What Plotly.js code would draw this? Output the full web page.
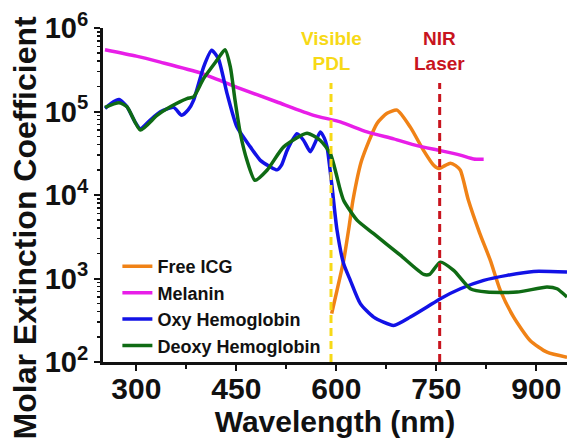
<!DOCTYPE html>
<html>
<head>
<meta charset="utf-8">
<script src="https://cdn.plot.ly/plotly-3.0.1.min.js"></script>
<style>html,body{margin:0;padding:0;background:#fff;}#chart{width:567px;height:445px;}</style>
</head>
<body>
<div id="chart"></div>
<script>
// Free ICG
const icgWavelength = [593, 601, 611, 619, 625, 638, 661, 676, 691, 711, 731, 746, 754, 763, 771, 779, 786, 798, 815, 831, 846, 866, 891, 916, 946];
const icgValue      = [380, 720, 1650, 4100, 8700, 26000, 72000, 95000, 104000, 65000, 34000, 22700, 20700, 22500, 24000, 22500, 19800, 8700, 3500, 1650, 720, 345, 180, 131, 114];

// Melanin
const melaninWavelength = [253, 300, 336, 396, 451, 511, 566, 606, 646, 686, 721, 756, 786, 806, 821];
const melaninValue      = [550000, 460000, 390000, 290000, 195000, 130000, 90000, 75000, 57000, 47000, 39000, 34000, 30000, 27000, 26800];

// Oxy Hemoglobin
const oxyWavelength = [253, 262, 274, 286, 298, 306, 320, 336, 356, 368, 378, 386, 401, 413, 423, 436, 451, 471, 486, 500, 511, 518, 526, 541, 551, 561, 568, 576, 582, 586, 593, 601, 611, 621, 636, 656, 686, 711, 736, 756, 786, 821, 856, 896, 946];
const oxyValue      = [109000, 125000, 139000, 114000, 75000, 62000, 78000, 99000, 112000, 90000, 105000, 137000, 343000, 540000, 430000, 165000, 65000, 37700, 26000, 22000, 20000, 23000, 34000, 54000, 45000, 33000, 42000, 57000, 48000, 38000, 13700, 3800, 1500, 950, 500, 345, 274, 345, 455, 573, 754, 950, 1090, 1215, 1195];

// Deoxy Hemoglobin
const deoxyWavelength = [253, 274, 286, 306, 331, 351, 376, 386, 401, 421, 433, 441, 448, 456, 466, 478, 496, 521, 556, 576, 591, 606, 611, 631, 656, 696, 731, 740, 756, 776, 801, 826, 871, 916, 931, 946];
const deoxyValue      = [112000, 127000, 114000, 60000, 90000, 114000, 143000, 150000, 249000, 412000, 550000, 343000, 137000, 54500, 26000, 15000, 19800, 37700, 55000, 45000, 31300, 11400, 8600, 5000, 3440, 1900, 1120, 1120, 1570, 1250, 754, 687, 687, 790, 754, 600];

// Marker wavelengths
const pdlWavelength = 592;
const nirWavelength = 755;
const markerSpan = [100, 220000];

const yTickVals = [1e2, 1e3, 1e4, 1e5, 1e6];
const yTickText = ['10<sup>2</sup>', '10<sup>3</sup>', '10<sup>4</sup>', '10<sup>5</sup>', '10<sup>6</sup>'];
const xTickVals = [300, 450, 600, 750, 900];

const FONT = 'Liberation Sans, Arial, sans-serif';
const lw = 3.5;

const traces = [
  {x: icgWavelength, y: icgValue, name: 'Free ICG', mode: 'lines', line: {color: '#f08216', width: lw, shape: 'spline', smoothing: 0.6}},
  {x: melaninWavelength, y: melaninValue, name: 'Melanin', mode: 'lines', line: {color: '#e81ee8', width: lw, shape: 'spline', smoothing: 0.6}},
  {x: oxyWavelength, y: oxyValue, name: 'Oxy Hemoglobin', mode: 'lines', line: {color: '#1212e6', width: lw, shape: 'spline', smoothing: 0.6}},
  {x: deoxyWavelength, y: deoxyValue, name: 'Deoxy Hemoglobin', mode: 'lines', line: {color: '#0f6b14', width: lw, shape: 'spline', smoothing: 0.6}},
  {x: [pdlWavelength, pdlWavelength], y: markerSpan, mode: 'lines', showlegend: false, hoverinfo: 'skip', line: {color: '#f7d916', width: 3, dash: '8px,5px'}},
  {x: [nirWavelength, nirWavelength], y: markerSpan, mode: 'lines', showlegend: false, hoverinfo: 'skip', line: {color: '#c8141e', width: 3, dash: '8px,5px'}}
];

const layout = {
  width: 567, height: 445,
  margin: {l: 103, r: 0, t: 28, b: 83},
  paper_bgcolor: '#ffffff', plot_bgcolor: '#ffffff',
  font: {family: FONT, color: '#111111'},
  showlegend: true,
  legend: {x: 0.031, y: 0.341, xanchor: 'left', yanchor: 'top', bgcolor: 'rgba(0,0,0,0)',
           font: {family: FONT, size: 18, weight: 'bold', color: '#111111'}, tracegroupgap: 0},
  xaxis: {
    range: [250, 946], showgrid: false, zeroline: false,
    showline: true, linecolor: '#111111', linewidth: 3,
    ticks: 'outside', ticklen: 6, tickwidth: 2, tickcolor: '#111111',
    tickmode: 'array', tickvals: xTickVals, ticklabelstandoff: -8,
    tickfont: {family: FONT, size: 30, weight: 'bold', color: '#111111'},
    minor: {dtick: 75, tick0: 0, ticks: 'outside', ticklen: 4, tickwidth: 2, tickcolor: '#111111', showgrid: false},
    title: {text: 'Wavelength (nm)', font: {family: FONT, size: 30, weight: 'bold', color: '#111111'}, standoff: 0}
  },
  yaxis: {
    type: 'log', range: [2, 6], showgrid: false, zeroline: false,
    showline: true, linecolor: '#111111', linewidth: 3,
    ticks: 'outside', ticklen: 6, tickwidth: 2, tickcolor: '#111111',
    tickmode: 'array', tickvals: yTickVals, ticktext: yTickText,
    tickfont: {family: FONT, size: 29, weight: 'bold', color: '#111111'},
    minor: {dtick: 'D1', ticks: 'outside', ticklen: 3, tickwidth: 1.5, tickcolor: '#111111', showgrid: false}
  },
  annotations: [
    {text: 'Molar Extinction Coefficient', xref: 'paper', yref: 'paper', x: -0.168, y: 0.40,
     xanchor: 'center', yanchor: 'middle', textangle: -90, showarrow: false,
     font: {family: FONT, size: 32, weight: 'bold', color: '#111111'}},
    {text: 'Visible<br>PDL', xref: 'x', yref: 'paper', x: pdlWavelength, y: 0.93,
     xanchor: 'center', yanchor: 'middle', showarrow: false,
     font: {family: FONT, size: 19, weight: 'bold', color: '#f7d916'}},
    {text: 'NIR<br>Laser', xref: 'x', yref: 'paper', x: nirWavelength, y: 0.93,
     xanchor: 'center', yanchor: 'middle', showarrow: false,
     font: {family: FONT, size: 19, weight: 'bold', color: '#c8141e'}}
  ]
};

Plotly.newPlot('chart', traces, layout, {staticPlot: true, displayModeBar: false});
</script>
</body>
</html>
